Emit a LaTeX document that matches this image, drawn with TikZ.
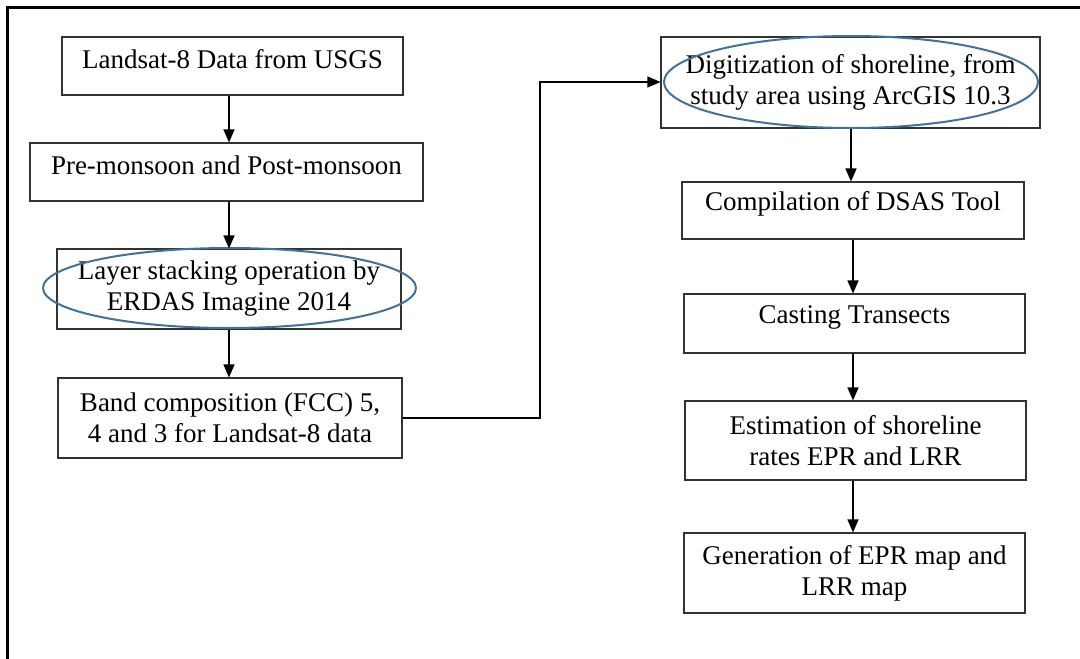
\documentclass[tikz,border=0pt]{standalone}
\usepackage{fontspec}
\setmainfont{Liberation Serif}
\usetikzlibrary{arrows.meta,shapes.geometric,calc}
\definecolor{ovalblue}{RGB}{65,113,156}
\definecolor{boxline}{RGB}{50,50,50}
\newcommand\liftup[1]{\raisebox{6.5pt}[\height][\depth]{#1}}
\tikzset{
  box/.style={draw=boxline,line width=1.1pt,rectangle,inner sep=0pt,align=center,
    font=\fontsize{27}{31}\selectfont},
  oval/.style={draw=ovalblue,line width=2pt,ellipse,inner sep=0pt},
  arr/.style={draw=black,line width=1.3pt,-{Triangle[width=11pt,length=13pt]}},
  frame/.style={draw=black,line width=3pt}
}
\begin{document}
\begin{tikzpicture}[x=1pt,y=-1pt]
\useasboundingbox (0,0) rectangle (1080,659);
\begin{scope}
\clip (0,0) rectangle (1080,659);
\draw[frame] (1090,7) -- (7,7) -- (7,670);
\end{scope}
% left column
\node[box,minimum width=341pt,minimum height=58pt] (b1) at (232.5,66) {\liftup{Landsat-8 Data from USGS}};
\node[box,minimum width=393pt,minimum height=58pt] (b2) at (226.5,172) {\liftup{Pre-monsoon and Post-monsoon}};
\node[box,minimum width=344pt,minimum height=80pt] (b3) at (229,289) {Layer stacking operation by\\ERDAS Imagine 2014};
\node[oval,minimum width=373pt,minimum height=80pt] (e3) at (229.5,288) {};
\node[box,minimum width=344pt,minimum height=80pt] (b4) at (230,418) {Band composition (FCC) 5,\\4 and 3 for Landsat-8 data};
% right column
\node[box,minimum width=379pt,minimum height=91pt] (b5) at (850.5,82.5) {Digitization of shoreline, from\\study area using ArcGIS 10.3};
\node[oval,minimum width=374pt,minimum height=92pt] (e5) at (851,82) {};
\node[box,minimum width=342pt,minimum height=57pt] (b6) at (853,210.5) {\liftup{Compilation of DSAS Tool}};
\node[box,minimum width=341pt,minimum height=59pt] (b7) at (854.5,323.5) {\liftup{Casting Transects}};
\node[box,minimum width=341pt,minimum height=79pt] (b8) at (855.5,440.5) {Estimation of shoreline\\rates EPR and LRR};
\node[box,minimum width=341pt,minimum height=80pt] (b9) at (854.5,573) {Generation of EPR map and\\LRR map};
% connectors
\draw[arr] (b1.south -| b3.center) -- (b3.center |- b2.north);
\draw[arr] (b2.south -| b3.center) -- (b3.north);
\draw[arr] (b3.south) -- (b3.south |- b4.north);
\coordinate (turn) at (540,0);
\draw[arr] (b4.east) -- (turn |- b4.east) -- (turn |- e5.west) -- (b5.west |- e5.west);
\draw[arr] (b5.south -| e5.center) -- (e5.center |- b6.north);
\draw[arr] (b6.south) -- (b6.south |- b7.north);
\draw[arr] (b7.south -| b6.south) -- (b6.south |- b8.north);
\draw[arr] (b8.south -| b6.south) -- (b6.south |- b9.north);
\end{tikzpicture}
\end{document}
